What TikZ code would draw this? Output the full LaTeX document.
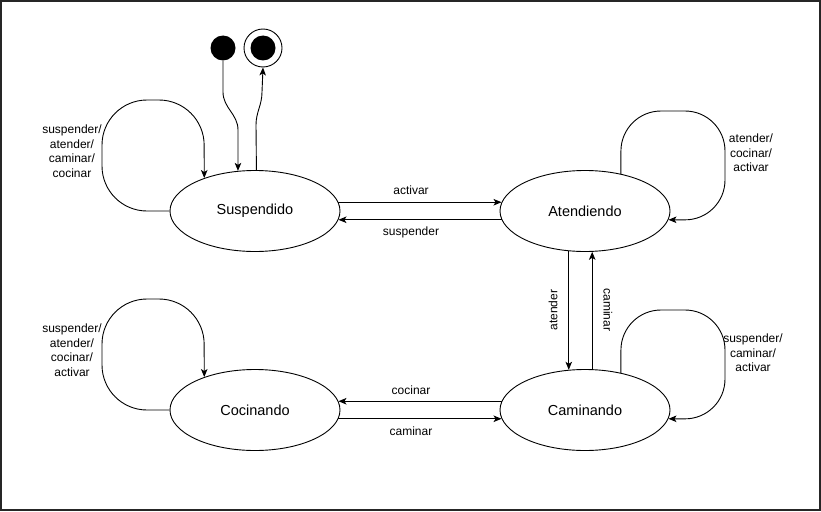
\documentclass[tikz,border=0pt]{standalone}
\usepackage{fontspec}
\setmainfont{Liberation Sans}
\usetikzlibrary{arrows.meta,shapes.geometric}
\begin{document}
\begin{tikzpicture}[x=1pt,y=-1pt,
  state/.style={ellipse,draw,line width=0.9pt,minimum width=170pt,minimum height=81pt,inner sep=0pt,font=\fontsize{14.5}{16}\selectfont},
  conn/.style={draw,line width=0.9pt,-{Stealth[length=8pt,width=6.5pt,inset=2pt]}},
  lbl/.style={font=\fontsize{12}{14.5}\selectfont,align=center,inner sep=0pt},
  loopl/.style={conn,rounded corners=45pt},
  loopr/.style={conn,rounded corners=40pt}]
\useasboundingbox (0,0) rectangle (821,511);
\draw[line width=2pt,black!85] (1,1) rectangle (820,510);

\node[state] (sus) at (255,211) {Suspendido};
\node[state] (ate) at (585,211) {Atendiendo};
\node[state] (coc) at (255,410) {Cocinando};
\node[state] (cam) at (585,410) {Caminando};

\node[circle,fill=black,minimum size=25pt,inner sep=0pt] (ini) at (223,48) {};
\node[circle,draw,line width=0.9pt,minimum size=38pt,inner sep=0pt] (fin) at (263,48) {};
\node[circle,fill=black,minimum size=25pt,inner sep=0pt] (fincore) at (263,48) {};

% initial / final
\draw[conn] (ini.south) -- (223,92) to[out=-90,in=90] (238,130) -- (sus.113);
\draw[conn] (sus.88) -- (256,125) to[out=90,in=-90] (262,92) -- (fin.south);

% self loops
\draw[loopl] (sus.west) -- (102,211) -- (102,100) -- (204,100) -- (sus.147);
\node[lbl] (l1) at (72,151) {suspender/\\atender/\\caminar/\\cocinar};

\draw[loopl] (coc.west) -- (102,410) -- (102,299) -- (204,299) -- (coc.147);
\node[lbl] (l2) at (72,350) {suspender/\\atender/\\cocinar/\\activar};

\draw[loopr] (ate.46) -- (621,111) -- (725,111) -- (725,220) -- (ate.-6);
\node[lbl] (l3) at (751,153) {atender/\\cocinar/\\activar};

\draw[loopr] (cam.46) -- (621,310) -- (725,310) -- (725,419) -- (cam.-6);
\node[lbl] (l4) at (753,353) {suspender/\\caminar/\\activar};

% horizontal
\draw[conn] (sus.6) -- (ate.174);
\node[lbl] (a1) at (411,190) {activar};
\draw[conn] (ate.186) -- (sus.-6);
\node[lbl] (a2) at (411,232) {suspender};

\draw[conn] (cam.174) -- (coc.6);
\node[lbl] (a3) at (411,390) {cocinar};
\draw[conn] (coc.-6) -- (cam.186);
\node[lbl] (a4) at (411,431) {caminar};

% vertical
\draw[conn] (ate.-112) -- (cam.112);
\node[lbl,rotate=90] (a5) at (553,310) {atender};
\draw[conn] (cam.80) -- (ate.-80);
\node[lbl,rotate=-90] (a6) at (608,310) {caminar};
\end{tikzpicture}
\end{document}
